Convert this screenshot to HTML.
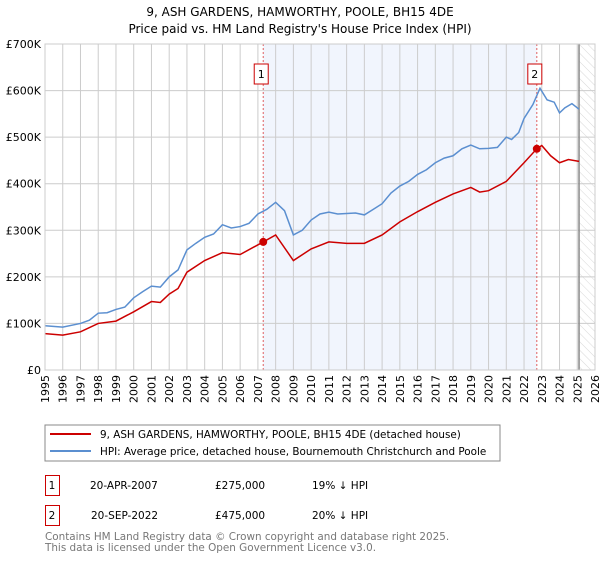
<!DOCTYPE html>
<html><head><meta charset="utf-8"><style>
body{margin:0;background:#fff;font-family:"DejaVu Sans","Liberation Sans",sans-serif;}
svg text{font-family:"DejaVu Sans","Liberation Sans",sans-serif;}
</style></head><body>
<svg id="c" width="600" height="560" xmlns="http://www.w3.org/2000/svg">
<defs><pattern id="hatch" width="6" height="6" patternUnits="userSpaceOnUse" patternTransform="rotate(-45)"><line x1="0" y1="0" x2="0" y2="6" stroke="#d8d8d8" stroke-width="1"/></pattern></defs>
<text x="300" y="16" text-anchor="middle" font-size="12">9, ASH GARDENS, HAMWORTHY, POOLE, BH15 4DE</text>
<text x="300" y="33" text-anchor="middle" font-size="12">Price paid vs. HM Land Registry's House Price Index (HPI)</text>
<g id="plot"></g>
<rect x="45" y="425" width="455" height="36" fill="#fff" stroke="#888"/>
<line x1="50" y1="434" x2="91" y2="434" stroke="#cc0000" stroke-width="2"/>
<text x="100" y="438" font-size="10.4">9, ASH GARDENS, HAMWORTHY, POOLE, BH15 4DE (detached house)</text>
<line x1="50" y1="451" x2="91" y2="451" stroke="#5b8fd0" stroke-width="2"/>
<text x="100" y="455" font-size="10.4">HPI: Average price, detached house, Bournemouth Christchurch and Poole</text>
<g font-size="10.5">
<rect x="45.5" y="475.5" width="14" height="20" fill="#fff" stroke="#cc0000"/><text x="52" y="489" text-anchor="middle">1</text>
<text x="90" y="489">20-APR-2007</text><text x="215" y="489">£275,000</text><text x="312" y="489">19% ↓ HPI</text></g>
<g font-size="10.5">
<rect x="45.5" y="505.5" width="14" height="20" fill="#fff" stroke="#cc0000"/><text x="52" y="519" text-anchor="middle">2</text>
<text x="91" y="519">20-SEP-2022</text><text x="215" y="519">£475,000</text><text x="312" y="519">20% ↓ HPI</text></g>
<text x="45" y="540" font-size="10.4" fill="#777">Contains HM Land Registry data © Crown copyright and database right 2025.</text>
<text x="45" y="551" font-size="10.4" fill="#777">This data is licensed under the Open Government Licence v3.0.</text>
</svg>
<script>
const hpiYears=[1995,1996,1997,1997.5,1998,1998.5,1999,1999.5,2000,2000.5,2001,2001.5,2002,2002.5,2003,2003.5,2004,2004.5,2005,2005.5,2006,2006.5,2007,2007.5,2008,2008.5,2009,2009.5,2010,2010.5,2011,2011.5,2012,2012.5,2013,2013.5,2014,2014.5,2015,2015.5,2016,2016.5,2017,2017.5,2018,2018.5,2019,2019.5,2020,2020.5,2021,2021.3,2021.7,2022,2022.5,2022.9,2023.3,2023.7,2024,2024.3,2024.7,2025.1];
const hpiValues=[95,92,100,107,122,123,130,135,155,168,180,178,200,215,258,272,285,292,312,305,308,315,335,345,360,342,290,300,322,335,339,335,336,337,333,345,357,380,395,405,420,430,445,455,460,475,483,475,476,478,500,495,510,540,570,605,580,575,552,563,572,560];
const priceYears=[1995,1996,1997,1998,1999,2000,2001,2001.5,2002,2002.5,2003,2004,2005,2006,2007.3,2008,2009,2010,2011,2012,2013,2014,2015,2016,2017,2018,2019,2019.5,2020,2021,2022,2022.72,2023,2023.5,2024,2024.5,2025.1];
const priceValues=[78,75,82,100,105,125,147,145,163,175,210,235,252,248,275,290,235,260,275,272,272,290,318,340,360,378,392,382,385,405,445,475,482,460,445,452,448];
const saleYears=[2007.3,2022.72];
const saleValues=[275,475];
const yTicks=[0,100,200,300,400,500,600,700];
const yTickLabels=["£0","£100K","£200K","£300K","£400K","£500K","£600K","£700K"];
const xTicks=[1995,1996,1997,1998,1999,2000,2001,2002,2003,2004,2005,2006,2007,2008,2009,2010,2011,2012,2013,2014,2015,2016,2017,2018,2019,2020,2021,2022,2023,2024,2025,2026];
const X0=45,X1=595,Y0=370,Y1=44;
const xs=v=>X0+(v-1995)/(2026-1995)*(X1-X0);
const ys=v=>Y0-v/700*(Y0-Y1);
const NS="http://www.w3.org/2000/svg";
const g=document.getElementById('plot');
function mk(t,a){const e=document.createElementNS(NS,t);for(const k in a)e.setAttribute(k,a[k]);g.appendChild(e);return e;}
let e;
e=mk('rect',{x:xs(saleYears[0]),y:Y1,width:xs(saleYears[1])-xs(saleYears[0]),height:Y0-Y1,fill:'#eef3fc',opacity:0.8});


e=mk('rect',{x:xs(2025.1),y:Y1,width:X1-xs(2025.1),height:Y0-Y1,fill:'url(#hatch)'});


xTicks.forEach(t=>{const x=xs(t);
e=mk('line',{x1:x,x2:x,y1:Y1,y2:Y0,stroke:'#ccc'});


e=mk('text',{x:0,y:0,'font-size':11,'text-anchor':'end',transform:`translate(${x+4},375) rotate(-90)`});e.textContent=t;

});
yTicks.forEach((t,i)=>{const y=ys(t);
e=mk('line',{x1:X0,x2:X1,y1:y,y2:y,stroke:'#ccc'});


e=mk('text',{x:X0-4,y:y+4,'font-size':11,'text-anchor':'end'});e.textContent=yTickLabels[i];

});
e=mk('line',{x1:xs(2025.1),x2:xs(2025.1),y1:Y1,y2:Y0,stroke:'#888','stroke-width':1.5});


saleYears.forEach((s,i)=>{const x=xs(s);
e=mk('line',{x1:x,x2:x,y1:Y1,y2:Y0,stroke:'#e06060','stroke-dasharray':'2,2'});


e=mk('rect',{x:x-9,y:64,width:14,height:20,fill:'#fff',stroke:'#cc0000'});


e=mk('text',{x:x-2,y:78,'font-size':11,'text-anchor':'middle'});e.textContent=i+1;

});
function line(xa,va,col,name){e=mk('polyline',{points:xa.map((x,i)=>xs(x)+','+ys(va[i])).join(' '),fill:'none',stroke:col,'stroke-width':1.5});

}
line(hpiYears,hpiValues,'#5b8fd0','hpi-line');
line(priceYears,priceValues,'#cc0000','price-paid-line');
saleYears.forEach((s,i)=>{e=mk('circle',{cx:xs(s),cy:ys(saleValues[i]),r:4,fill:'#cc0000'});

});
e=mk('rect',{x:X0,y:Y1,width:X1-X0,height:Y0-Y1,fill:'none',stroke:'#ccc'});


</script>
</body></html>
